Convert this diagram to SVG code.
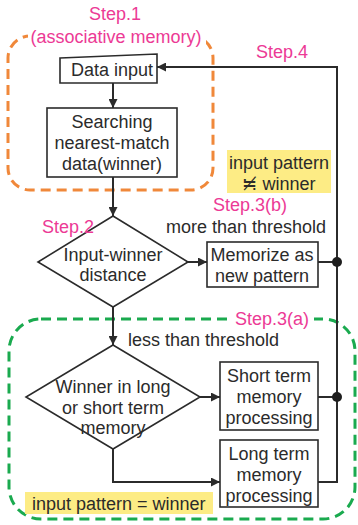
<svg xmlns="http://www.w3.org/2000/svg" width="358" height="525" viewBox="0 0 358 525">
  <style>
    text { font-family: "Liberation Sans", Arial, sans-serif; font-size: 18px; fill: #2b2b2b; text-anchor: middle; }
    .step { fill: #ec3a95; }
    .box { fill: #ffffff; stroke: #2b2b2b; stroke-width: 1.6; }
    .note { fill: #fdec85; }
    .wire { fill: none; stroke: #2b2b2b; stroke-width: 2; }
    .group-orange { fill: none; stroke: #f0883a; stroke-width: 3; stroke-dasharray: 10 6; }
    .group-green { fill: none; stroke: #1aaa4f; stroke-width: 3; stroke-dasharray: 10 6; }
    .mask { fill: #ffffff; }
  </style>
  <defs>
    <marker id="arrow" viewBox="0 0 10 10" refX="10" refY="5" markerWidth="4.5" markerHeight="4.5" orient="auto">
      <path d="M0,0 L10,5 L0,10 z" fill="#2b2b2b"/>
    </marker>
  </defs>

  <rect width="358" height="525" fill="#ffffff"/>

  <!-- step groupings -->
  <g id="group-step1">
    <rect class="group-orange" x="8" y="36" width="205" height="154" rx="22"/>
    <rect class="mask" x="28" y="29" width="178" height="16"/>
    <text class="step" x="115" y="20">Step.1</text>
    <text class="step" x="116" y="43">(associative memory)</text>
  </g>
  <g id="group-step3a">
    <rect class="group-green" x="9" y="319" width="346" height="200" rx="32"/>
    <rect class="mask" x="232" y="311" width="82" height="16"/>
    <text class="step" x="272" y="325">Step.3(a)</text>
  </g>

  <!-- connectors -->
  <g id="connectors">
    <line class="wire" x1="113" y1="83" x2="113" y2="108" marker-end="url(#arrow)"/>
    <line class="wire" x1="113" y1="177" x2="113" y2="216" marker-end="url(#arrow)"/>
    <line class="wire" x1="188" y1="262" x2="207" y2="262" marker-end="url(#arrow)"/>
    <line class="wire" x1="113" y1="307" x2="113" y2="345" marker-end="url(#arrow)"/>
    <line class="wire" x1="200" y1="397" x2="220" y2="397" marker-end="url(#arrow)"/>
    <polyline class="wire" points="113,449 113,482 220,482" marker-end="url(#arrow)"/>
    <!-- feedback loop to data input -->
    <line class="wire" x1="318" y1="262" x2="337" y2="262"/>
    <line class="wire" x1="318" y1="397" x2="337" y2="397"/>
    <polyline class="wire" points="318,482 337,482 337,67 157,67" marker-end="url(#arrow)"/>
    <circle cx="337" cy="262" r="5" fill="#1e1e1e"/>
    <circle cx="337" cy="397" r="5" fill="#1e1e1e"/>
  </g>

  <!-- nodes -->
  <g id="data-input">
    <polygon class="box" points="60,58 157,54 157,83 60,83"/>
    <text x="112" y="76">Data input</text>
  </g>
  <g id="searching">
    <rect class="box" x="47" y="108" width="130" height="69"/>
    <text x="112" y="128">Searching</text>
    <text x="112" y="149">nearest-match</text>
    <text x="112" y="170">data(winner)</text>
  </g>
  <g id="distance">
    <polygon class="box" points="113,216 188,262 113,307 38,262"/>
    <text x="113" y="261">Input-winner</text>
    <text x="113" y="281">distance</text>
  </g>
  <g id="memorize">
    <rect class="box" x="207" y="242" width="111" height="45"/>
    <text x="262" y="261">Memorize as</text>
    <text x="262" y="282">new pattern</text>
  </g>
  <g id="memory-check">
    <polygon class="box" points="113,345 200,397 113,449 26,397"/>
    <text x="113" y="393">Winner in long</text>
    <text x="113" y="414">or short term</text>
    <text x="113" y="434">memory</text>
  </g>
  <g id="short-term">
    <rect class="box" x="220" y="362" width="98" height="68"/>
    <text x="269" y="382">Short term</text>
    <text x="269" y="403">memory</text>
    <text x="269" y="424">processing</text>
  </g>
  <g id="long-term">
    <rect class="box" x="220" y="440" width="98" height="67"/>
    <text x="269" y="460">Long term</text>
    <text x="269" y="481">memory</text>
    <text x="269" y="502">processing</text>
  </g>

  <!-- labels -->
  <g id="labels">
    <text class="step" x="282" y="58">Step.4</text>
    <text class="step" x="68" y="233">Step.2</text>
    <text class="step" x="250" y="211">Step.3(b)</text>
    <text x="246" y="233">more than threshold</text>
    <text x="128" y="346" style="text-anchor:start">less than threshold</text>
    <rect class="note" x="227" y="150" width="104" height="43"/>
    <text x="279" y="169">input pattern</text>
    <text x="279" y="190">≒̸ winner</text>
    <rect class="note" x="25" y="492" width="188" height="22"/>
    <text x="32" y="510" style="text-anchor:start">input pattern = winner</text>
  </g>
</svg>
